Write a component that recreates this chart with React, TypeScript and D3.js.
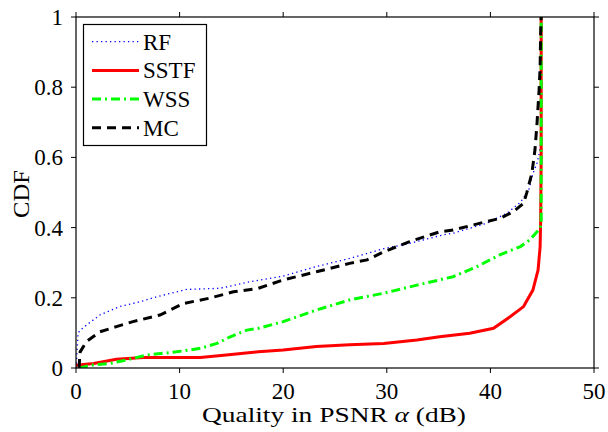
import React from "react";
import * as d3 from "d3";

// CDF curves: [quality dB, cdf]
const rf: [number, number][] = [
  [0, 0], [0.05, 0.02], [0.2, 0.1], [0.5, 0.11], [1.0, 0.122], [2.3, 0.151], [4.2, 0.175],
  [6.2, 0.189], [7.8, 0.203], [10.7, 0.224], [13.9, 0.227], [16.8, 0.246], [20, 0.262],
  [23.2, 0.289], [26.4, 0.312], [29.7, 0.34], [32.2, 0.355], [35.4, 0.379], [36.4, 0.384],
  [39.6, 0.412], [41.6, 0.441], [42.9, 0.472], [43.7, 0.507], [44.1, 0.554], [44.5, 0.583],
  [44.7, 0.61], [44.9, 0.65], [44.9, 1],
];
const sstf: [number, number][] = [
  [0, 0.008], [1.7, 0.013], [3.9, 0.025], [6.5, 0.03], [12, 0.03], [14.5, 0.037], [17.6, 0.046],
  [20, 0.051], [23.2, 0.061], [26.4, 0.066], [29.7, 0.07], [32.9, 0.08], [35.1, 0.089],
  [38, 0.099], [40.3, 0.113], [41.9, 0.146], [43.2, 0.175], [44.1, 0.222], [44.6, 0.279],
  [44.8, 0.346], [44.85, 0.42], [44.9, 0.6], [44.9, 1],
];
const wss: [number, number][] = [
  [0.3, 0], [0.9, 0.004], [1.7, 0.009], [3.3, 0.013], [4.9, 0.023], [6.8, 0.037], [9.7, 0.046],
  [12, 0.056], [13.6, 0.07], [14.9, 0.089], [16.5, 0.108], [17.6, 0.113], [20, 0.132],
  [23.2, 0.165], [26.4, 0.194], [29.7, 0.213], [32.9, 0.236], [35.8, 0.256], [36.4, 0.26],
  [38.7, 0.289], [40.9, 0.322], [42.9, 0.346], [43.8, 0.365], [44.8, 0.398], [44.9, 0.41],
  [44.9, 1],
];
const mc: [number, number][] = [
  [0.3, 0], [0.35, 0.03], [0.4, 0.046], [1, 0.075], [2.3, 0.103], [3.9, 0.118], [5.5, 0.132],
  [8.1, 0.151], [10.4, 0.184], [12.9, 0.199], [15.2, 0.217], [17.6, 0.227], [20, 0.251],
  [23.2, 0.274], [26.4, 0.298], [28.1, 0.308], [29.7, 0.331], [32.2, 0.36], [35.1, 0.388],
  [36.4, 0.393], [39.6, 0.417], [40.9, 0.426], [42.2, 0.445], [43.2, 0.469], [43.5, 0.498],
  [44, 0.554], [44.3, 0.621], [44.5, 0.697], [44.7, 0.792], [44.8, 0.858], [44.85, 0.953],
  [44.9, 1],
];

const xTicks = [0, 10, 20, 30, 40, 50];
const yTicks = [0, 0.2, 0.4, 0.6, 0.8, 1];
const yTickLabels = ["0", "0.2", "0.4", "0.6", "0.8", "1"];

const series = [
  { name: "RF", data: rf, color: "#0000ff", width: 1.3, dash: "1.3 3.2" },
  { name: "SSTF", data: sstf, color: "#ff0000", width: 3, dash: "" },
  { name: "WSS", data: wss, color: "#00ff00", width: 3, dash: "9 4 2 4" },
  { name: "MC", data: mc, color: "#000000", width: 3, dash: "9 6" },
];

const W = 608, H = 432;
const left = 76, right = 594, top = 17, bottom = 368;
const font = "Liberation Serif, Times New Roman, serif";

export default function App() {
  const x = d3.scaleLinear().domain([0, 50]).range([left, right]);
  const y = d3.scaleLinear().domain([0, 1]).range([bottom, top]);
  const line = d3.line<[number, number]>().x(d => x(d[0])).y(d => y(d[1]));
  const tl = 5;

  return (
    <svg width={W} height={H}
      style={{ position: "absolute", left: 0, top: 0, background: "#fff", fontFamily: font }}>
      <defs>
        <clipPath id="plot"><rect x={left} y={top - 2} width={right - left} height={bottom - top + 2} /></clipPath>
      </defs>
      <g clipPath="url(#plot)">
        {series.map(s => (
          <path key={s.name} d={line(s.data) || ""} fill="none" stroke={s.color}
            strokeWidth={s.width} strokeDasharray={s.dash || undefined} />
        ))}
      </g>
      <rect x={left} y={top} width={right - left} height={bottom - top} fill="none" stroke="#000" strokeWidth={1.2} />
      {xTicks.map(t => (
        <g key={"x" + t}>
          <line x1={x(t)} x2={x(t)} y1={bottom} y2={bottom + tl} stroke="#000" />
          <line x1={x(t)} x2={x(t)} y1={top} y2={top - tl} stroke="#000" />
          <text x={x(t)} y={399} textAnchor="middle" fontSize={23}>{t}</text>
        </g>
      ))}
      {yTicks.map((t, i) => (
        <g key={"y" + t}>
          <line x1={left} x2={left - tl} y1={y(t)} y2={y(t)} stroke="#000" />
          <line x1={right} x2={right + tl} y1={y(t)} y2={y(t)} stroke="#000" />
          <text x={63} y={y(t) + 8} textAnchor="end" fontSize={23}>{yTickLabels[i]}</text>
        </g>
      ))}
      <text x={334} y={422} textAnchor="middle" fontSize={22} textLength={264} lengthAdjust="spacingAndGlyphs">
        Quality in PSNR <tspan fontStyle="italic">α</tspan> (dB)
      </text>
      <text transform={`translate(29,194) rotate(-90)`} textAnchor="middle" fontSize={23}
        textLength={48} lengthAdjust="spacingAndGlyphs">CDF</text>
      <g>
        <rect x={83.5} y={24.5} width={123} height={121} fill="#fff" stroke="#000" strokeWidth={1.2} />
        {series.map((s, i) => {
          const ly = 41.7 + i * 28.7;
          return (
            <g key={"l" + s.name}>
              <line x1={92} x2={139} y1={ly} y2={ly} stroke={s.color} strokeWidth={s.width}
                strokeDasharray={s.dash || undefined} />
              <text x={143} y={ly + 8} fontSize={23}>{s.name}</text>
            </g>
          );
        })}
      </g>
    </svg>
  );
}
